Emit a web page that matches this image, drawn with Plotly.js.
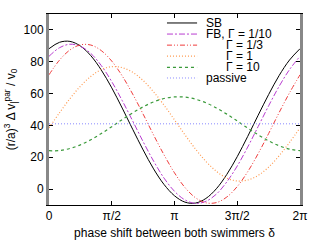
<!DOCTYPE html>
<html>
<head>
<meta charset="utf-8">
<script src="https://cdn.plot.ly/plotly-3.0.1.min.js"></script>
<style>html,body{margin:0;padding:0;background:#fff}</style>
</head>
<body>
<div id="chart" style="width:322px;height:242px"></div>
<script>
// phase shift delta in degrees (converted to radians for plotting)
const deltaDeg = [0,15,30,45,60,75,90,105,120,135,150,165,180,195,210,225,240,255,270,285,300,315,330,345,360];
const sb      = [88.2,92.2,92.8,89.9,83.8,74.8,63.6,50.9,37.6,24.6,12.7,2.9,-4.2,-8.2,-8.8,-5.9,0.2,9.2,20.4,33.1,46.4,59.4,71.3,81.1,88.2];
const fb01    = [83.4,88.8,91.0,89.7,85.2,77.6,67.5,55.6,42.8,29.8,17.6,6.9,-1.4,-6.8,-9.0,-7.7,-3.2,4.5,14.5,26.4,39.3,52.3,64.5,75.1,83.4];
const fb03    = [71.8,81.0,87.4,90.6,90.5,87.0,80.4,71.1,59.7,47.1,34.0,21.5,10.2,1.0,-5.4,-8.6,-8.5,-5.0,1.6,10.9,22.3,34.9,48.0,60.5,71.8];
const fb1     = [38.5,47.9,56.8,64.6,70.8,75.1,76.9,76.3,73.4,68.2,61.1,52.7,43.5,34.1,25.2,17.4,11.2,6.9,5.1,5.7,8.6,13.8,20.9,29.3,38.5];
const fb10    = [24.1,24.2,25.5,27.8,31.0,34.9,39.2,43.7,47.9,51.7,54.8,56.9,57.9,57.8,56.5,54.2,51.0,47.1,42.8,38.3,34.1,30.3,27.2,25.1,24.1];
const passive = [41,41,41,41,41,41,41,41,41,41,41,41,41,41,41,41,41,41,41,41,41,41,41,41,41];
const names = ["SB","FB, Γ = 1/10","Γ = 1/3","Γ = 1","Γ = 10","passive"];
const xTickVals = [0, Math.PI/2, Math.PI, 3*Math.PI/2, 2*Math.PI];
const xTickText = ["0","π/2","π","3π/2","2π"];
const yTickVals = [0,20,40,60,80,100];

const x = deltaDeg.map(d => d*Math.PI/180);
const series = [sb, fb01, fb03, fb1, fb10, passive];
const styles = [
  {color:"#000000", dash:"solid", width:1},
  {color:"#b83cd0", dash:"6px,2px,2px,2px", width:1},
  {color:"#f03c3c", dash:"5px,2px,1px,2px,1px,2px", width:1},
  {color:"#ff9a50", dash:"1px,2px", width:1.2},
  {color:"#3a9a3a", dash:"3px,3px", width:1.2},
  {color:"#8a8aff", dash:"1px,2px", width:1}
];
const traces = series.map((s,i) => ({
  x: x, y: s, name: names[i], type: "scatter", mode: "lines", showlegend: false,
  line: Object.assign({shape: i===5 ? "linear" : "spline", smoothing: 1}, styles[i])
}));

// manual legend (key layout)
const legX0 = 0.470, legX1 = 0.590, legTextX = 0.6175, legIndentX = 0.697;
const legY = [0.953, 0.895, 0.837, 0.779, 0.721, 0.665];
const shapes = styles.map((st,i) => ({
  type: "line", xref: "paper", yref: "paper", x0: legX0, x1: legX1, y0: legY[i], y1: legY[i],
  line: {color: st.color, dash: st.dash, width: st.width}
}));
const annotations = names.map((n,i) => ({
  xref: "paper", yref: "paper", x: (i>=2 && i<=4) ? legIndentX : legTextX, y: legY[i],
  xanchor: "left", yanchor: "middle", text: n, showarrow: false,
  font: {size: 12, color: "#000"}
}));

const layout = {
  width: 322, height: 242,
  margin: {l:49, r:22, t:14, b:37},
  paper_bgcolor: "#fff", plot_bgcolor: "#fff",
  font: {family: "Liberation Sans, Arial, sans-serif", size: 12, color: "#000"},
  showlegend: false,
  shapes: shapes,
  annotations: annotations,
  xaxis: {
    range: [0, 2*Math.PI], tickvals: xTickVals, ticktext: xTickText,
    ticks: "inside", ticklen: 4, tickcolor: "#000", showgrid: false, zeroline: false,
    showline: true, linecolor: "#000", linewidth: 1, mirror: "ticks",
    title: {text: "phase shift between both swimmers δ", font: {size: 12}, standoff: 6},
    tickfont: {size: 12}
  },
  yaxis: {
    range: [-10, 110], tickvals: yTickVals,
    ticks: "inside", ticklen: 4, tickcolor: "#000", showgrid: false, zeroline: false,
    showline: true, linecolor: "#888", linewidth: 3, mirror: "ticks",
    title: {text: "(r/a)<sup>3</sup> Δ v<sub>|</sub><sup>par</sup> / v<sub>0</sub>", font: {size: 12}, standoff: 6},
    tickfont: {size: 12}
  }
};
Plotly.newPlot("chart", traces, layout, {displayModeBar: false, staticPlot: true});
</script>
</body>
</html>
